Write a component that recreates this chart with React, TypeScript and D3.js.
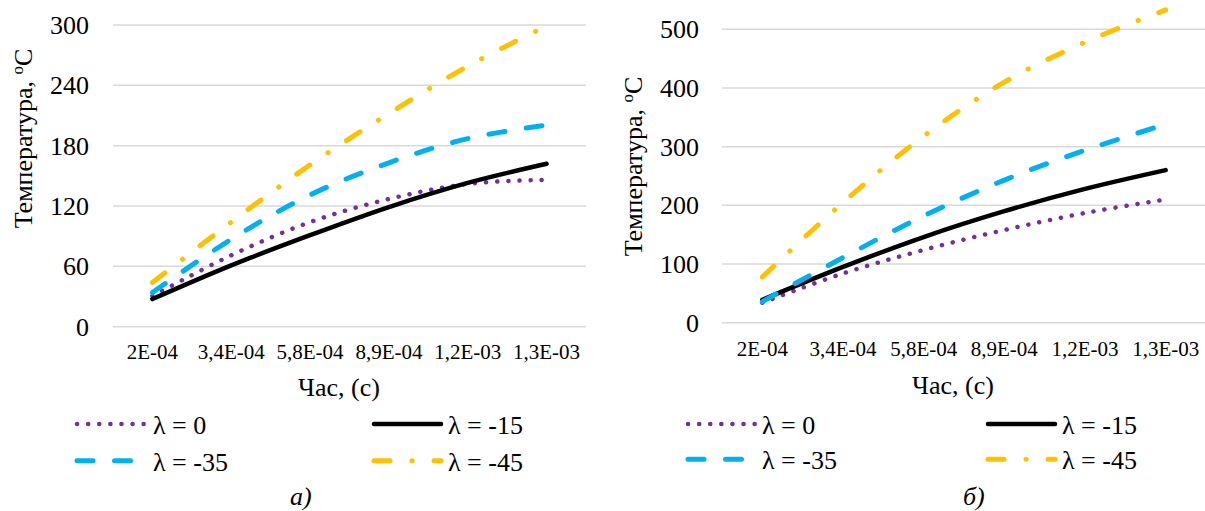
import * as d3 from 'd3';

const categories = ['2E-04', '3,4E-04', '5,8E-04', '8,9E-04', '1,2E-03', '1,3E-03'];
const seriesNames = ['λ = 0', 'λ = -15', 'λ = -35', 'λ = -45'];

// панель а)
const tempA0 = [30.5, 71, 104, 127, 142, 146];
const tempA15 = [27.5, 61, 91, 119, 143, 162];
const tempA35 = [34, 87, 131, 163, 187, 200.5];
const tempA45 = [44, 104, 161, 212, 259, 299];
const ticksA = [0, 60, 120, 180, 240, 300];

// панель б)
const tempB0 = [34, 84, 124, 158, 187, 210];
const tempB15 = [39, 95, 146, 190, 228, 260];
const tempB35 = [36, 111, 182, 243, 294, 338];
const tempB45 = [78, 205, 318, 410, 478, 533];
const ticksB = [0, 100, 200, 300, 400, 500];

const STYLES = [
  { color: '#7030A0', width: 4.5, dash: '0.1 11' },
  { color: '#000000', width: 4.5, dash: undefined },
  { color: '#00B0F0', width: 5, dash: '16 21.5' },
  { color: '#FFC000', width: 5, dash: '16 22 0.1 22' },
];

const CSS = `
  .chart text { font-family: 'Liberation Serif', 'Times New Roman', 'DejaVu Serif', serif; fill: #000; }
  .chart .big { font-size: 26px; }
  .chart .small { font-size: 21px; }
  .chart .sup { font-size: 17px; }
  .chart .cap { font-style: italic; }
`;

function Panel({ p }) {
  const x = d3.scalePoint().domain(categories).range([p.left, p.right]).padding(0.5);
  const y = d3.scaleLinear().domain([0, p.ticks[p.ticks.length - 1]]).range([p.bottom, p.top]);
  const line = d3.line<number>()
    .x((d, i) => x(categories[i]))
    .y((d) => y(d))
    .curve(d3.curveCardinal.tension(0));

  return (
    <g>
      {p.ticks.map((t) => (
        <line key={'g' + t} x1={p.left} x2={p.right} y1={y(t)} y2={y(t)} stroke="#d9d9d9" strokeWidth={1.5} />
      ))}
      {p.ticks.map((t) => (
        <text key={'t' + t} className="big" x={p.yLabelX} y={y(t) + 9} textAnchor="end">{String(t)}</text>
      ))}
      {categories.map((c) => (
        <text key={c} className="small" x={x(c)} y={p.xLabelY} textAnchor="middle">{c}</text>
      ))}
      {p.series.map((vals, i) => (
        <path
          key={'s' + i}
          d={line(vals)}
          fill="none"
          stroke={STYLES[i].color}
          strokeWidth={STYLES[i].width}
          strokeLinecap="round"
          strokeDasharray={STYLES[i].dash}
        />
      ))}
      <text className="big" transform={`translate(${p.yTitle[0]},${p.yTitle[1]}) rotate(-90)`} textAnchor="middle">
        Температура, <tspan className="sup" dy={-9}>o</tspan><tspan dy={9}>C</tspan>
      </text>
      <text className="big" x={p.xTitle[0]} y={p.xTitle[1]} textAnchor="middle">Час, (с)</text>
      {seriesNames.map((name, i) => {
        const col = p.legendCols[i % 2];
        const ly = p.legendRows[Math.floor(i / 2)];
        return (
          <g key={name}>
            <line
              x1={col[0]} x2={col[1]} y1={ly} y2={ly}
              stroke={STYLES[i].color}
              strokeWidth={STYLES[i].width}
              strokeLinecap="round"
              strokeDasharray={STYLES[i].dash}
            />
            <text className="big" x={col[2]} y={ly + 10}>{name}</text>
          </g>
        );
      })}
      <text className="big cap" x={p.caption[0]} y={p.caption[1]}>{p.caption[2]}</text>
    </g>
  );
}

const panelA = {
  left: 113, right: 586, top: 25, bottom: 326.7,
  ticks: ticksA,
  series: [tempA0, tempA15, tempA35, tempA45],
  yLabelX: 89, xLabelY: 359,
  yTitle: [32, 138.5], xTitle: [339, 396],
  legendCols: [[77, 147, 153], [374, 441, 448]],
  legendRows: [424, 460.7],
  caption: [290, 505, 'а)'],
};

const panelB = {
  left: 722, right: 1206, top: 29.3, bottom: 322.7,
  ticks: ticksB,
  series: [tempB0, tempB15, tempB35, tempB45],
  yLabelX: 699, xLabelY: 356,
  yTitle: [642, 166.5], xTitle: [953, 394],
  legendCols: [[688, 755, 762], [988, 1055, 1062]],
  legendRows: [424, 459.3],
  caption: [963, 505, 'б)'],
};

export default function App() {
  return (
    <svg
      className="chart"
      width={1205}
      height={511}
      style={{ position: 'absolute', left: 0, top: 0, background: '#fff' }}
    >
      <style>{CSS}</style>
      <Panel p={panelA} />
      <Panel p={panelB} />
    </svg>
  );
}
